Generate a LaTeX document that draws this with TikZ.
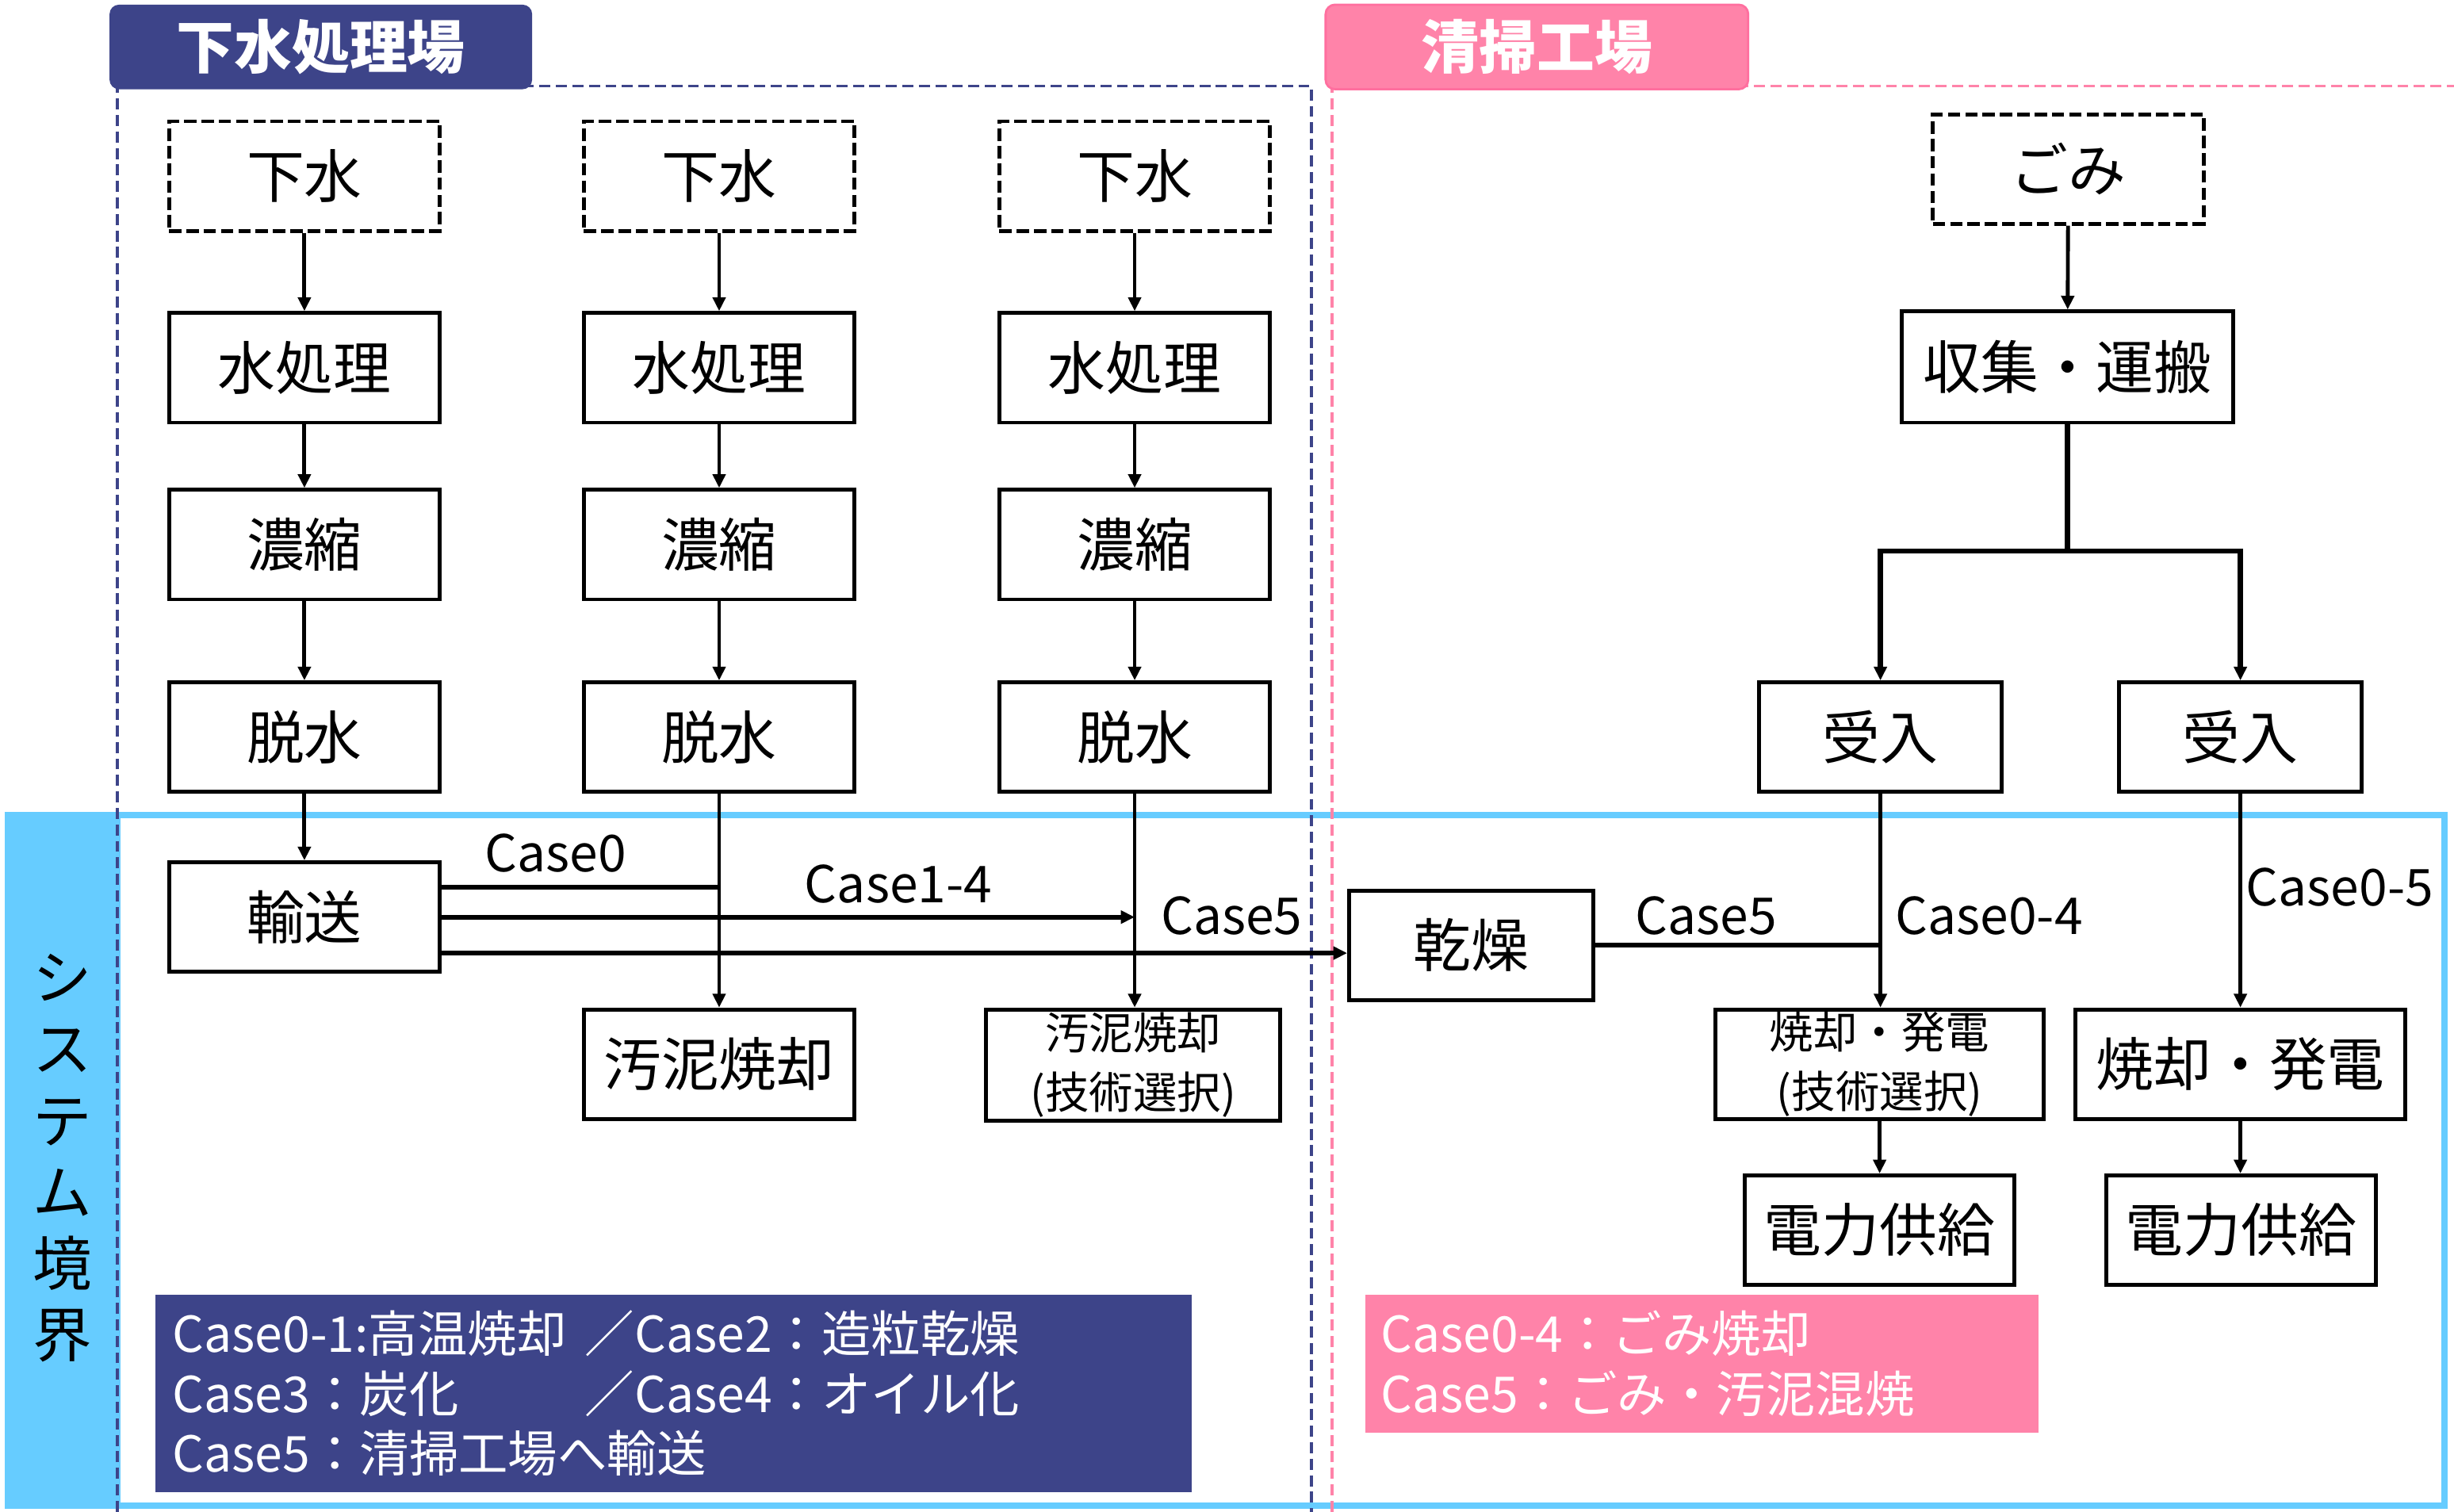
\documentclass[tikz,border=0pt]{standalone}
\usepackage{fontspec}
\setmainfont{Noto Sans CJK JP}
\usetikzlibrary{arrows.meta,calc}
\definecolor{navy}{HTML}{3D4489}
\definecolor{pinkc}{HTML}{FF83A9}
\definecolor{pinkd}{HTML}{FF6F9F}
\definecolor{skyb}{HTML}{66CCFF}
\tikzset{
  bw/.style={minimum width=#1*0.02cm},
  bh/.style={minimum height=#1*0.02cm},
  procbox/.style={draw=black, line width=1.4pt, inner sep=0pt, bh=70, bw=173,
    font=\fontsize{21}{25}\selectfont},
  srcbox/.style={procbox, dash pattern=on 4.5pt off 1.8pt},
  twoline/.style={align=center, font=\fontsize{16}{21.5}\selectfont},
  flow/.style={line width=1.4pt, -{Triangle[length=5pt,width=4.6pt]}},
  plainline/.style={line width=1.8pt},
  caselbl/.style={font=\fontsize{18.5}{21}\selectfont, inner sep=0pt},
  header/.style={rounded corners=0.12cm, bw=270, bh=54, text=white,
    font=\bfseries\fontsize{21}{25}\selectfont},
  legend/.style={inner ysep=0pt, align=left, text=white, anchor=north west,
    font=\fontsize{18}{21.8}\selectfont}
}
\begin{document}
\begin{tikzpicture}[x=0.02cm,y=-0.02cm]
\useasboundingbox (0,0) rectangle (1568,966);
% system boundary
\fill[skyb] (5,521) rectangle (77,962);
\draw[skyb, line width=2.3pt] (5,521) rectangle (1562,962);
\node[font=\fontsize{21.5}{26}\selectfont, align=center, inner sep=0pt] (sysb) at (40,740) {シ\\ス\\テ\\ム\\境\\界};
% plant regions
\draw[navy, line width=1pt, dash pattern=on 4pt off 2pt] (75,966) -- (75,55) -- (838,55) -- (838,966);
\draw[pinkc, line width=1pt, dash pattern=on 4pt off 2pt] (851,966) -- (851,55) -- (1568,55);
\node[header, fill=navy] (h1) at (205,30) {下水処理場};
\node[header, fill=pinkc, draw=pinkd, line width=0.8pt] (h2) at (982,30) {清掃工場};

% left columns
\foreach \i/\x in {1/194.5, 2/459.5, 3/725} {
  \node[srcbox] (gs\i) at (\x,112.5) {下水};
  \node[procbox] (wt\i) at (\x,235) {水処理};
  \node[procbox] (th\i) at (\x,348) {濃縮};
  \node[procbox] (dw\i) at (\x,471) {脱水};
  \draw[flow] (gs\i) -- (wt\i);
  \draw[flow] (wt\i) -- (th\i);
  \draw[flow] (th\i) -- (dw\i);
}
\node[procbox] (tr) at (194.5,586) {輸送};
\node[procbox] (inc2) at (459.5,680) {汚泥焼却};
\node[procbox, bw=188, bh=71, twoline] (inc3) at (724,680.5) {汚泥焼却\\(技術選択)};
\draw[flow] (dw1) -- (tr);
\draw[flow] (dw2) -- (inc2);
\draw[flow] (dw3.south) -- (dw3.south |- inc3.north);

% right side
\node[srcbox] (gomi) at (1321.5,108) {ごみ};
\node[procbox, bw=212, bh=71] (col) at (1321,234.5) {収集・運搬};
\node[procbox, bw=155] (rc1) at (1201.5,471) {受入};
\node[procbox, bw=155] (rc2) at (1431.5,471) {受入};
\node[procbox, bw=156] (dry) at (940,604) {乾燥};
\node[procbox, bw=210, twoline] (ip1) at (1201,680) {焼却・発電\\(技術選択)};
\node[procbox, bw=211] (ip2) at (1431.5,680) {焼却・発電};
\node[procbox, bw=172] (ps1) at (1201,786) {電力供給};
\node[procbox, bw=172] (ps2) at (1432,786) {電力供給};
\coordinate (sp) at (1321,352);
\draw[flow] (gomi) -- (col);
\draw[plainline] (col.south) -- (sp);
\draw[flow, line width=1.8pt] (sp) -| (rc1.north);
\draw[flow, line width=1.8pt] (sp) -| (rc2.north);
\draw[flow] (rc1.south) -- (rc1.south |- ip1.north);
\draw[flow] (rc2.south) -- (rc2.south |- ip2.north);
\draw[flow] (ip1) -- (ps1);
\draw[flow] (ip2.south) -- (ip2.south |- ps2.north);

% case connectors
\draw[plainline] ($(tr.east)+(0,-19)$) -- ($(dw2.south |- tr.east)+(0,-19)$);
\draw[flow, line width=1.8pt] (tr.east) -- (dw3.south |- tr.east);
\draw[flow, line width=1.8pt] ($(tr.east)+(0,23)$) -- ($(dry.west |- tr.east)+(0,23)$);
\draw[plainline] (dry.east) -- (rc1.south |- dry.east);

\node[caselbl] (l0) at (355,545) {Case0};
\node[caselbl] (l14) at (574,565) {Case1-4};
\node[caselbl] (l5a) at (787,585) {Case5};
\node[caselbl] (l5b) at (1090,585) {Case5};
\node[caselbl] (l04) at (1271,585) {Case0-4};
\node[caselbl] (l05) at (1495,567) {Case0-5};

% legends
\node[legend, fill=navy, text width=640*0.02cm, inner xsep=0.22cm, minimum height=126*0.02cm] (lg1) at (99,827)
  {\makebox[150pt][l]{Case0-1:高温焼却}／Case2：造粒乾燥\\
   \makebox[150pt][l]{Case3：炭化}／Case4：オイル化\\
   Case5：清掃工場へ輸送};
\node[legend, fill=pinkc, text width=410*0.02cm, inner xsep=0.2cm, minimum height=88*0.02cm] (lg2) at (872,827)
  {Case0-4：ごみ焼却\\
   Case5：ごみ・汚泥混焼};
\end{tikzpicture}
\end{document}
